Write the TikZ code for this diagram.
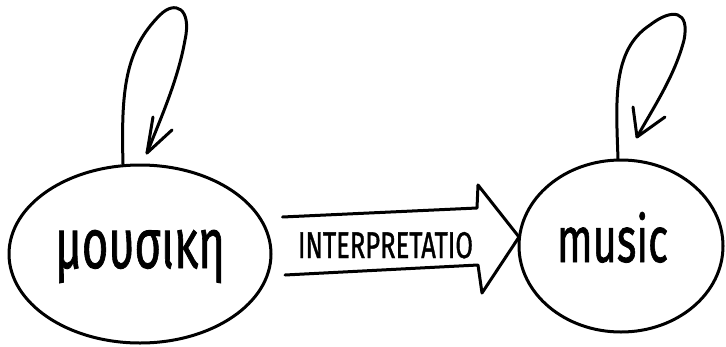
\documentclass[tikz,border=0pt]{standalone}
\usepackage{fontspec}
\setmainfont{Fira Sans}
\newfontfamily\inkfont[FakeBold=1.3]{Fira Sans}
\usetikzlibrary{shapes.geometric}
\begin{document}
\begin{tikzpicture}[x=1pt,y=-1pt,
  ink/.style={line width=3pt, line cap=round, line join=round, black},
  bubble/.style={ellipse, draw, ink, inner sep=0pt},
  word/.style={anchor=base, inner sep=0pt, black, font=\inkfont}]
\useasboundingbox (0,0) rectangle (726,346);
% bubbles
\node[bubble, minimum width=262pt, minimum height=178pt] (greek) at (140,254) {};
\node[bubble, minimum width=204pt, minimum height=172pt] (music) at (621,246) {};
% words
\node[word] (tgreek) at (140,268) {\resizebox{170pt}{38pt}{μουσικη}};
\node[word] (tmusic) at (612.5,262) {\resizebox{111pt}{50pt}{music}};
% self loops
\coordinate (ltip) at (147,153);
\coordinate (rtip) at (637,137);
\draw[ink] (greek.north) ++(-17,0.5) coordinate (lstart)
  .. controls (121,90) and (125,50) .. (160,15)
  .. controls (175,0) and (192,8) .. (185,40)
  .. controls (178,80) and (160,120) .. (ltip);
\draw[ink] (ltip) -- ++(6,-36) (ltip) -- ++(25,-23);
\draw[ink] (music.north) ++(-3,0.5) coordinate (rstart)
  .. controls (616,100) and (612,50) .. (650,25)
  .. controls (672,8) and (690,10) .. (684,40)
  .. controls (675,75) and (655,105) .. (rtip);
\draw[ink] (rtip) -- ++(-4,-30) (rtip) -- ++(28,-20);
% interpretation arrow
\coordinate (atip) at (519,237);
\draw[ink] (greek.east) ++(10,-37) coordinate (atop)
  -- (477,208) -- (478,185) -- (atip) -- (482,293) -- (478,265) -- ++(-193,10) coordinate (abot);
\node[word] (tinterp) at (385.5,258) {\resizebox{175pt}{26pt}{INTERPRETATIO}};
\end{tikzpicture}
\end{document}
